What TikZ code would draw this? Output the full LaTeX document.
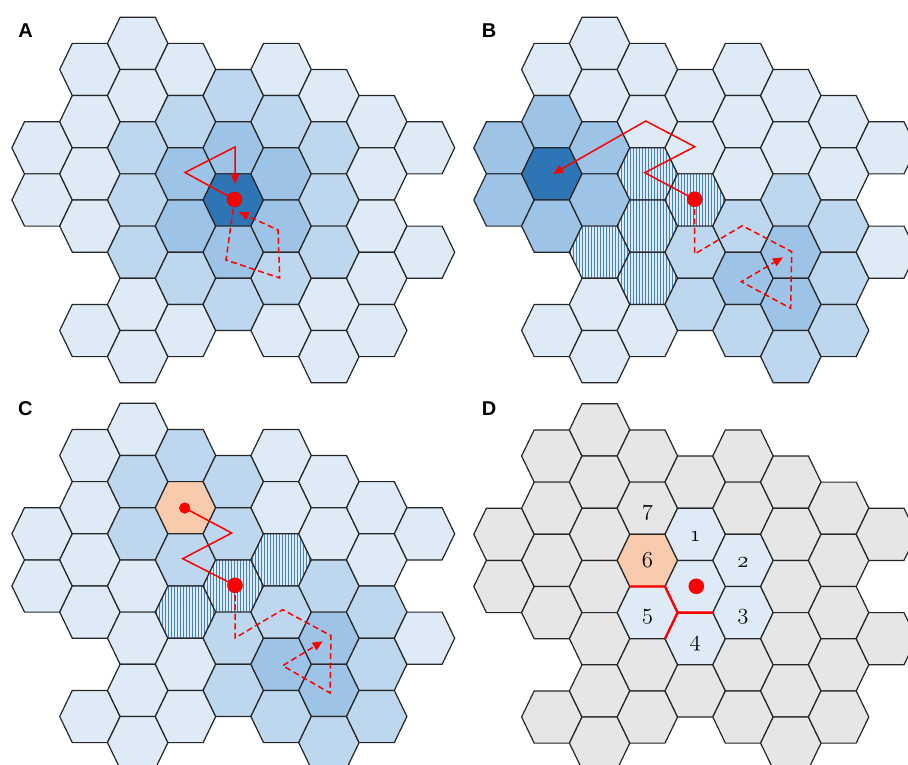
\documentclass[tikz,border=0pt]{standalone}
\usepackage{fontspec}
\newfontfamily\labfont{Liberation Sans}
\usetikzlibrary{arrows.meta,patterns.meta}
\definecolor{cL}{HTML}{DEEBF7}
\definecolor{cM}{HTML}{BDD7EE}
\definecolor{cN}{HTML}{9DC3E6}
\definecolor{cD}{HTML}{2E75B6}
\definecolor{cO}{HTML}{F8CBAD}
\definecolor{cG}{HTML}{E7E6E6}
\definecolor{cE}{HTML}{262626}
\definecolor{cR}{HTML}{FF0000}
\tikzset{
  hexbase/.style={draw=cE, line width=1.2pt, line join=miter},
  hL/.style={fill=cL}, hM/.style={fill=cM}, hN/.style={fill=cN},
  hD/.style={fill=cD}, hO/.style={fill=cO}, hG/.style={fill=cG},
  hH/.style={preaction={fill=cL}, pattern={Lines[angle=90,distance=3pt,line width=0.65pt]}, pattern color=cD!90!white},
  walk/.style={draw=cR, line width=1.5pt, line join=miter},
  walkd/.style={walk, dash pattern=on 6pt off 3.5pt},
  tip/.style={-{Triangle[length=10pt,width=8.5pt]}},
  bigdot/.style={circle, fill=cR, draw=cR!85!black, line width=0.5pt, minimum size=15pt, inner sep=0pt},
  smalldot/.style={circle, fill=cR, draw=cR!85!black, line width=0.5pt, minimum size=10.5pt, inner sep=0pt},
  plabel/.style={font=\labfont\fontsize{20}{24}\selectfont\bfseries, inner sep=0pt},
  num/.style={font=\fontsize{20.74}{24}\usefont{OML}{cmm}{m}{it}, inner sep=0pt, anchor=base, scale=1.1},
  border/.style={draw=cR, line width=2.4pt, line join=round}
}
\newcommand\hexpanel[3]{%
  \begin{scope}[shift={(#1,#2)}]
    \foreach \hk/\hj/\hs in {#3}{
      \path[hexbase,\hs] ({47.8*\hk+30.2},{26.1*\hj}) -- ++(-12.6,26.1) -- ++(-35.2,0)
        -- ++(-12.6,-26.1) -- ++(12.6,-26.1) -- ++(35.2,0) -- cycle;
    }
  \end{scope}}
\begin{document}
\begin{tikzpicture}[x=1pt,y=-1pt]
\useasboundingbox (0,0) rectangle (908,765);
\clip (0,0) rectangle (908,765);
\fill[white] (0,0) rectangle (908,765);

% ---------------- Panel A ----------------
\hexpanel{233.3}{200}{
 -4/-2/hL, -4/0/hL,
 -3/-5/hL, -3/-3/hL, -3/-1/hL, -3/1/hL, -3/5/hL,
 -2/-6/hL, -2/-4/hL, -2/-2/hM, -2/0/hM, -2/2/hM, -2/4/hL, -2/6/hL,
 -1/-5/hL, -1/-3/hM, -1/-1/hN, -1/1/hN, -1/3/hM, -1/5/hL,
 0/-4/hM, 0/-2/hN, 0/0/hD, 0/2/hN, 0/4/hM,
 1/-5/hL, 1/-3/hM, 1/-1/hN, 1/1/hN, 1/3/hM, 1/5/hL,
 2/-4/hL, 2/-2/hM, 2/0/hM, 2/2/hM, 2/4/hL, 2/6/hL,
 3/-3/hL, 3/-1/hL, 3/1/hL, 3/3/hL, 3/5/hL,
 4/-2/hL, 4/2/hL}
\coordinate (pA) at (234.5,199.5);
\coordinate (a1) at (185,172.5);
\coordinate (a2) at (235,147);
\coordinate (a3) at (235,184);
\coordinate (a4) at (226,260);
\coordinate (a5) at (279.7,278);
\coordinate (a6) at (278,230);
\coordinate (a7) at (238.8,212);
\draw[walk,tip] (pA) -- (a1) -- (a2) -- (a3);
\draw[walkd,tip] (pA) -- (a4) -- (a5) -- (a6) -- (a7);
\node[bigdot] (dA) at (pA) {};
\node[plabel] (lA) at (25.5,30.5) {A};

% ---------------- Panel B ----------------
\hexpanel{695.2}{200}{
 -4/-2/hN, -4/0/hN,
 -3/-5/hL, -3/-3/hN, -3/-1/hD, -3/1/hN, -3/5/hL,
 -2/-6/hL, -2/-4/hL, -2/-2/hN, -2/0/hN, -2/2/hH, -2/4/hL, -2/6/hL,
 -1/-5/hL, -1/-3/hL, -1/-1/hH, -1/1/hH, -1/3/hH, -1/5/hL,
 0/-4/hL, 0/-2/hL, 0/0/hH, 0/2/hM, 0/4/hM,
 1/-5/hL, 1/-3/hL, 1/-1/hL, 1/1/hM, 1/3/hN, 1/5/hM,
 2/-4/hL, 2/-2/hL, 2/0/hM, 2/2/hN, 2/4/hN, 2/6/hM,
 3/-3/hL, 3/-1/hL, 3/1/hM, 3/3/hM, 3/5/hM,
 4/-2/hL, 4/2/hL}
\coordinate (pB) at (694.7,199.3);
\coordinate (b1) at (644.7,172.7);
\coordinate (b2) at (694.7,146.7);
\coordinate (b3) at (645.7,121);
\coordinate (b4) at (553,174);
\coordinate (b5) at (694.7,254);
\coordinate (b6) at (742.3,225.7);
\coordinate (b7) at (791.7,251.7);
\coordinate (b8) at (790.7,308.3);
\coordinate (b9) at (741.3,281.7);
\coordinate (b10) at (783,257.3);
\draw[walk,tip] (pB) -- (b1) -- (b2) -- (b3) -- (b4);
\draw[walkd,tip] (pB) -- (b5) -- (b6) -- (b7) -- (b8) -- (b9) -- (b10);
\node[bigdot] (dB) at (pB) {};
\node[plabel] (lB) at (489,30.5) {B};

% ---------------- Panel C ----------------
\hexpanel{233.3}{586}{
 -4/-2/hL, -4/0/hL,
 -3/-5/hL, -3/-3/hL, -3/-1/hL, -3/1/hL, -3/5/hL,
 -2/-6/hL, -2/-4/hM, -2/-2/hM, -2/0/hL, -2/2/hL, -2/4/hL, -2/6/hL,
 -1/-5/hM, -1/-3/hO, -1/-1/hM, -1/1/hH, -1/3/hL, -1/5/hL,
 0/-4/hM, 0/-2/hM, 0/0/hH, 0/2/hM, 0/4/hM,
 1/-5/hL, 1/-3/hL, 1/-1/hH, 1/1/hM, 1/3/hN, 1/5/hM,
 2/-4/hL, 2/-2/hL, 2/0/hM, 2/2/hN, 2/4/hN, 2/6/hM,
 3/-3/hL, 3/-1/hL, 3/1/hM, 3/3/hM, 3/5/hM,
 4/-2/hL, 4/2/hL}
\coordinate (pC) at (235,585.3);
\coordinate (qC) at (184.7,508);
\coordinate (c1) at (231.7,533);
\coordinate (c2) at (182.7,558.7);
\coordinate (c3) at (235,638);
\coordinate (c4) at (282.7,609.7);
\coordinate (c5) at (331,635.7);
\coordinate (c6) at (330,693);
\coordinate (c7) at (282.7,665.7);
\coordinate (c8) at (322.7,641.3);
\draw[walk] (qC) -- (c1) -- (c2) -- (pC);
\draw[walkd,tip] (pC) -- (c3) -- (c4) -- (c5) -- (c6) -- (c7) -- (c8);
\node[smalldot] (dC2) at (qC) {};
\node[bigdot] (dC) at (pC) {};
\node[plabel] (lC) at (25.3,408.8) {C};

% ---------------- Panel D ----------------
\hexpanel{695.2}{586.5}{
 -4/-2/hG, -4/0/hG,
 -3/-5/hG, -3/-3/hG, -3/-1/hG, -3/1/hG, -3/5/hG,
 -2/-6/hG, -2/-4/hG, -2/-2/hG, -2/0/hG, -2/2/hG, -2/4/hG, -2/6/hG,
 -1/-5/hG, -1/-3/hG, -1/-1/hO, -1/1/hL, -1/3/hG, -1/5/hG,
 0/-4/hG, 0/-2/hL, 0/0/hL, 0/2/hL, 0/4/hG,
 1/-5/hG, 1/-3/hG, 1/-1/hL, 1/1/hL, 1/3/hG, 1/5/hG,
 2/-4/hG, 2/-2/hG, 2/0/hG, 2/2/hG, 2/4/hG, 2/6/hG,
 3/-3/hG, 3/-1/hG, 3/1/hG, 3/3/hG, 3/5/hG,
 4/-2/hG, 4/2/hG}
\coordinate (e1) at (629.8,586.5);
\coordinate (e2) at (665,586.5);
\coordinate (e3) at (677.6,612.6);
\coordinate (e4) at (712.8,612.6);
\coordinate (e5) at (665,638.7);
\draw[border] (e1) -- (e2) -- (e3) -- (e4);
\draw[border] (e3) -- (e5);
\node[bigdot] (dD) at (696.3,586.3) {};
\node[num] (n7) at (647.4,515.5) {7};
\node[num] (n1) at (695.2,541.6) {1};
\node[num] (n6) at (647.4,567.7) {6};
\node[num] (n2) at (743.0,567.7) {2};
\node[num] (n5) at (647.4,619.9) {5};
\node[num] (n3) at (743.0,619.9) {3};
\node[num] (n4) at (695.2,646.0) {4};
\node[plabel] (lD) at (489,408.8) {D};
\end{tikzpicture}
\end{document}
